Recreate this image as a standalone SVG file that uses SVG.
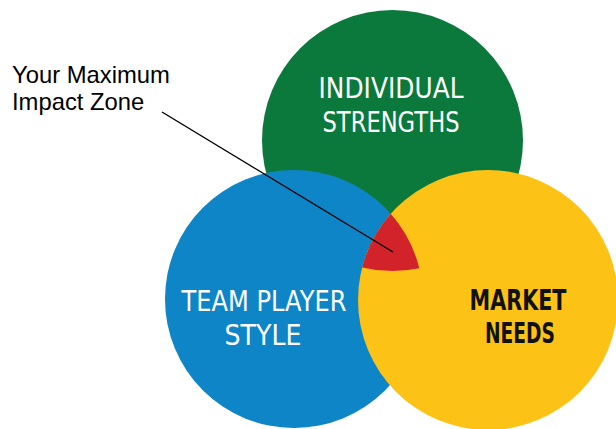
<svg xmlns="http://www.w3.org/2000/svg" width="616" height="429" viewBox="0 0 616 429">
<style>
.lbl{font-family:"DejaVu Sans","Liberation Sans",sans-serif;font-size:29px;text-anchor:middle}
.w{fill:#ffffff}
.k{fill:#111111;font-weight:bold}
.note{font-family:"Liberation Sans",Arial,sans-serif;font-size:23.8px;fill:#000000}
</style>
<rect width="616" height="429" fill="#ffffff"/>
<g id="strengths">
<circle cx="392.5" cy="140.5" r="130.5" fill="#0b793b"/>
<text class="lbl w" x="391" y="98" textLength="145" lengthAdjust="spacingAndGlyphs">INDIVIDUAL</text>
<text class="lbl w" x="391" y="132" textLength="137" lengthAdjust="spacingAndGlyphs">STRENGTHS</text>
</g>
<g id="team">
<circle cx="294" cy="299" r="129" fill="#0e85c7"/>
<text class="lbl w" x="264" y="311" textLength="165" lengthAdjust="spacingAndGlyphs">TEAM PLAYER</text>
<text class="lbl w" x="263" y="345" textLength="77" lengthAdjust="spacingAndGlyphs">STYLE</text>
</g>
<g id="market">
<circle cx="488" cy="300" r="130" fill="#fdc216"/>
<text class="lbl k" x="518" y="310" textLength="97" lengthAdjust="spacingAndGlyphs">MARKET</text>
<text class="lbl k" x="520" y="343" textLength="70" lengthAdjust="spacingAndGlyphs">NEEDS</text>
</g>
<g id="zone">
<path d="M390.7 213.7 A130 130 0 0 0 362.2 267.4 A130.5 130.5 0 0 0 419.3 268.3 A129 129 0 0 0 390.7 213.7 Z" fill="#d2232b"/>
</g>
<g id="connectors">
<line x1="162" y1="112" x2="393" y2="252" stroke="#000000" stroke-width="1.4"/>
</g>
<g id="label">
<text class="note" x="12" y="83">Your Maximum</text>
<text class="note" x="12" y="110">Impact Zone</text>
</g>
</svg>
